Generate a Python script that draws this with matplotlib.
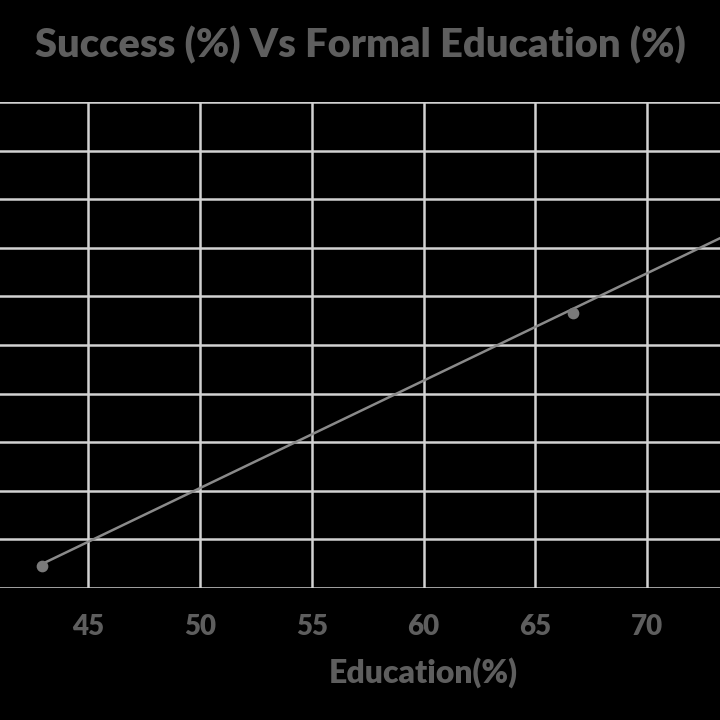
import matplotlib
matplotlib.use("Agg")
import matplotlib.pyplot as plt

# Data (y axis: success %, labels are cropped out of the view)
education = [42.9, 66.7]
success = [4.5, 56.5]

# Linear trend line end points
trend_x = [42.9, 75.0]
trend_y = [4.9, 75.8]

x_ticks = [45, 50, 55, 60, 65, 70]
y_ticks = [0, 10, 20, 30, 40, 50, 60, 70, 80, 90, 100]

text_gray = "#5e5e5e"
grid_gray = "#d2d2d2"
line_gray = "#8a8a8a"

plt.rcParams["font.family"] = ["Lato", "DejaVu Sans"]

fig = plt.figure(figsize=(7.2, 7.2), dpi=100, facecolor="black")
ax = fig.add_axes([0.0, 0.1833, 1.0, 0.675])
ax.set_facecolor("black")

# Trend line and data points
ax.plot(trend_x, trend_y, color=line_gray, linewidth=1.8, zorder=3)
ax.scatter(education, success, s=55, color="#7a7a7a", zorder=4)

ax.set_xlim(41.04, 73.27)
ax.set_ylim(0, 100)
ax.set_xticks(x_ticks)
ax.set_yticks(y_ticks)
ax.grid(True, color=grid_gray, linewidth=1.8)
ax.set_axisbelow(True)

for s in ax.spines.values():
    s.set_visible(False)

ax.tick_params(axis="x", length=0, pad=19, labelsize=20, labelcolor=text_gray)
ax.tick_params(axis="y", length=0, labelleft=False)
for lbl in ax.get_xticklabels():
    lbl.set_fontweight("heavy")

ax.set_xlabel("Education(%)", fontsize=23, fontweight="heavy", color=text_gray, va="center")
ax.xaxis.set_label_coords(0.5875, -0.173)

fig.text(0.5, 1 - 45 / 720, "Success (%) Vs Formal Education (%)", ha="center", va="center",
         fontsize=28.7, fontweight="heavy", color=text_gray)

plt.savefig("out.png", dpi=100, facecolor="black")
